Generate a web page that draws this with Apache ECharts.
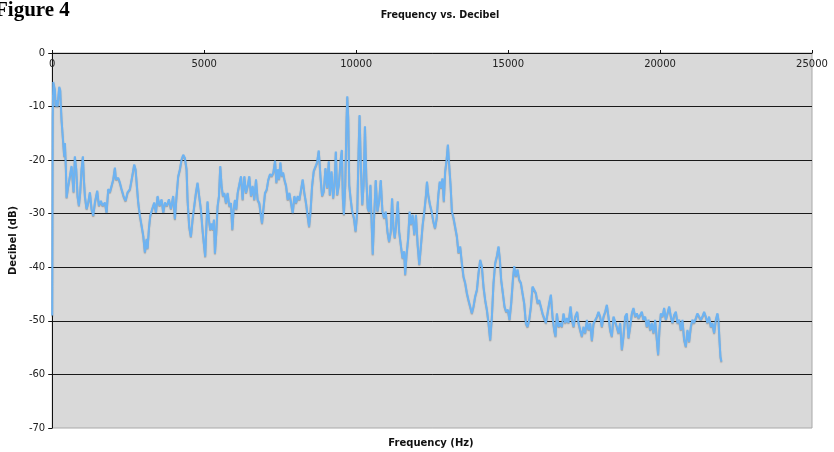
<!DOCTYPE html>
<html><head><meta charset="utf-8">
<script src="https://cdn.jsdelivr.net/npm/echarts@6/dist/echarts.min.js"></script>
<style>html,body{margin:0;padding:0;background:#fff}#c{width:834px;height:452px}</style>
</head><body><div id="c"></div>
<script>
const xTicks = [0, 5000, 10000, 15000, 20000, 25000];
const yTicks = [0, -10, -20, -30, -40, -50, -60, -70];
const freq = [0,15,33,88,110,143,175,230,263,285,307,362,395,417,450,472,526,581,636,669,702,745,790,833,878,921,965,1009,1042,1075,1130,1184,1240,1294,1349,1404,1480,1535,1601,1656,1733,1788,1842,1897,1952,2007,2062,2095,2171,2227,2281,2347,2413,2479,2556,2632,2698,2742,2786,2830,2885,2940,2995,3050,3104,3137,3181,3225,3290,3356,3412,3466,3532,3598,3653,3708,3773,3839,3905,3980,4036,4090,4145,4201,4255,4310,4366,4420,
4453,4507,4563,4617,4672,4727,4781,4836,4892,4946,5001,5034,5067,5110,5157,5200,5244,5288,5321,5354,5397,5441,5486,5529,5573,5617,5661,5717,5771,5826,5881,5925,5969,6013,6057,6101,6156,6211,6265,6320,6376,6431,6485,6540,6594,6649,6705,6759,6814,6870,6903,6946,7002,7056,7111,7167,7221,7276,7332,7376,7419,7463,7507,7551,7596,7640,7695,7749,7804,7859,7913,7968,8023,8078,8132,8187,8241,8296,8352,8406,8452,8496,8550,8605,8660,8715,8770,8826,8880,
8935,8990,9045,9100,9134,9190,9244,9288,9332,9377,9430,9486,9530,9563,9596,9642,9686,9708,9740,9773,9817,9872,9927,9981,10037,10080,10113,10157,10202,10246,10290,10336,10380,10423,10470,10512,10546,10590,10645,10700,10754,10810,10865,10919,10975,11030,11084,11140,11183,11228,11271,11315,11371,11415,11470,11526,11580,11613,11659,11713,11759,11803,11859,11913,11968,12024,12078,12134,12190,12243,12298,12331,12375,12430,12486,12540,12595,12651,12705,12751,12795,12840,12885,12929,12972,13019,13062,13107,13152,13205,
13260,13314,13368,13423,13479,13532,13588,13644,13697,13752,13808,13862,13917,13973,14027,14081,14137,14191,14246,14302,14356,14411,14467,14520,14575,14631,14685,14731,14772,14828,14882,14937,14993,15046,15102,15158,15201,15256,15310,15365,15421,15475,15530,15585,15639,15694,15750,15804,15859,15914,15969,16023,16078,16133,16187,16243,16297,16352,16408,16462,16516,16560,16606,16660,16715,16771,16824,16880,16935,16989,17055,17099,17154,17208,17274,17318,17372,17428,17481,17537,17592,17646,17701,17757,
17810,17865,17922,17975,18029,18086,18139,18194,18250,18303,18358,18414,18468,18523,18578,18632,18687,18743,18796,18852,18907,18961,19016,19072,19125,19181,19237,19290,19345,19401,19454,19509,19565,19619,19674,19730,19783,19838,19894,19937,19980,20026,20080,20135,20191,20245,20300,20355,20409,20464,20520,20573,20628,20684,20738,20792,20848,20902,20957,21013,21066,21121,21177,21231,21286,21341,21395,21450,21506,21559,21614,21670,21724,21779,21835,21889,21922,21955,21988,22021];
const decibel = [-49,-12,-5.4,-6.9,-10,-8.8,-10,-6.3,-6.9,-10,-12.5,-16.8,-19.3,-16.8,-21.7,-27,-24.8,-23,-21.1,-23.6,-26,-19.3,-21.7,-26.7,-28.5,-26,-21.7,-19.3,-23.6,-26.7,-29.1,-27.9,-26,-29.1,-30.4,-27.9,-25.7,-28.5,-27.6,-28.5,-27.9,-29.8,-25.4,-26,-24.8,-23.6,-21.4,-23.6,-23.3,-24.2,-25.4,-26.7,-27.6,-26,-25.4,-23,-20.8,-21.7,-24.8,-27.9,-30.4,-32.2,-34.1,-37.2,-34.7,-36.5,-32.8,-30.4,-29.1,-27.9,-29.8,-26.7,-28.5,-27.3,-29.8,-27.9,-28.5,-27.3,-29.1,-26.7,-31,-26.7,-23,-21.7,-19.9,-19,-19.6,-21.7,
-27.4,-32.4,-34.3,-31.1,-28.6,-26.1,-24.2,-26.7,-29.2,-33,-36.2,-38,-33,-27.7,-31.1,-33,-31.8,-33,-31.1,-37.4,-33.6,-28.6,-26.7,-21.1,-24.8,-26.7,-26.1,-28,-26.1,-28.6,-28,-33,-29.2,-27.4,-29.2,-26.1,-24.5,-23,-27.4,-23,-26.1,-24.8,-23,-26.7,-24.8,-27.4,-23.6,-27.4,-28,-30.5,-31.8,-29.2,-26.1,-25.5,-23.6,-22.6,-23,-22.3,-20.1,-24.2,-21.7,-23.6,-20.4,-23,-22.3,-23.6,-24.8,-27.4,-26.1,-28,-29.9,-26.7,-28,-26.7,-27.4,-25.5,-23.6,-26.1,-28,-30.5,-32.4,-29.9,-24.8,-22,-22.3,-20.4,-18.2,-23,-26.7,
-25.8,-21.5,-25.2,-20.2,-26.5,-22.1,-27.1,-24.6,-18.4,-26.5,-24.6,-20.2,-18.1,-27.1,-30.2,-24.6,-12.2,-8.1,-12.2,-24.6,-27.1,-29.6,-30.8,-33.3,-29.6,-18.4,-11.6,-21.5,-28.3,-24.6,-13.7,-23.4,-28.9,-29.6,-24.6,-32,-37.6,-30.8,-23.7,-29.6,-27.7,-23.7,-29.6,-30.8,-29.6,-33.3,-35.2,-33.3,-27.1,-32.7,-34.5,-32,-27.7,-33.3,-35.8,-38.3,-37,-41.4,-37.6,-34.5,-29.6,-32,-30.2,-33.9,-30.2,-35.8,-39.5,-35.8,-32,-29.6,-26.5,-24,-26.5,-28.3,-29.6,-31.4,-32.7,-30.8,-26.5,-24,-25.2,-23.4,-27.7,-22.1,-20.2,-17.1,-20.9,-24.6,-29.6,-30.8,
-31,-34.2,-37.3,-36.1,-39.2,-41.7,-42.9,-44.8,-46.1,-47.3,-48.6,-47.3,-45.4,-44.2,-41.1,-38.6,-39.8,-43.6,-46.1,-47.9,-50.4,-53.6,-49.2,-42.9,-39.2,-37.9,-36.1,-38.6,-42.3,-44.8,-47.3,-48.3,-47.9,-49.8,-46.7,-42.3,-39.8,-41.7,-40.4,-42.3,-42.9,-44.8,-46.7,-50.4,-51.1,-49.8,-47.3,-43.6,-43.6,-44.8,-46.7,-46.1,-47.3,-48.6,-48.3,-50.4,-48.6,-46.7,-45.1,-49.2,-51.7,-52.9,-48.6,-51.1,-50.4,-51.1,-48.6,-50.4,-49.5,-50.4,-47.3,-49.8,-51.1,-49.2,-48.3,-50.4,-51.7,-52.9,-51.1,-52.3,-49.8,-51.7,-50.4,-53.7,
-50.5,-50.4,-49.2,-48.3,-49.2,-51.1,-49.2,-48.3,-47,-49.2,-51.7,-52.9,-49.2,-49.2,-51.1,-52.3,-50.4,-55.4,-52.9,-49.2,-48.6,-53.2,-51.1,-48.6,-47.6,-49.2,-48.6,-49.5,-49.2,-48.3,-49.8,-49.2,-51.1,-49.8,-51.7,-50.4,-52.3,-49.8,-53.5,-56.3,-51.7,-48.6,-49.2,-47.6,-49.8,-48.6,-47.3,-49.2,-50.4,-48.9,-48.3,-50.4,-49.8,-51.7,-49.8,-53.5,-54.8,-51.7,-53.9,-51.1,-49.8,-50.4,-49.5,-48.6,-48.3,-49.8,-49.2,-48.3,-49.2,-50.4,-49.2,-51.1,-50.4,-52.3,-49.8,-48.6,-49.8,-53.5,-56.7,-57.6];

const chart = echarts.init(document.getElementById('c'), null, {renderer: 'canvas'});
const data = freq.map((f, i) => [f, decibel[i]]);
const txt = '#222';
chart.setOption({
  animation: false,
  backgroundColor: '#fff',
  grid: {left: 52, right: 22, top: 53, bottom: 24, show: true, backgroundColor: '#d9d9d9', borderColor: '#a8a8a8', borderWidth: 1},
  graphic: [
    {type: 'text', left: -5, top: 0, style: {text: 'Figure 4', font: 'bold 21px "Liberation Serif"', fill: '#000'}},
    {type: 'text', x: 440, y: 10, style: {text: 'Frequency vs. Decibel', font: 'bold 9.6px "DejaVu Sans"', fill: '#111', align: 'center'}},
    {type: 'text', x: 431, y: 438, style: {text: 'Frequency (Hz)', font: 'bold 10px "DejaVu Sans"', fill: '#111', align: 'center'}}
  ],
  xAxis: {
    type: 'value', position: 'top', min: xTicks[0], max: xTicks[xTicks.length - 1], interval: 5000,
    axisLine: {show: true, onZero: false, lineStyle: {color: '#111', width: 1}},
    axisTick: {show: true, length: 3, lineStyle: {color: '#111'}},
    axisLabel: {inside: true, margin: 6, fontSize: 10, fontFamily: 'DejaVu Sans', color: txt, formatter: v => String(v)},
    splitLine: {show: false}
  },
  yAxis: {
    type: 'value', min: yTicks[yTicks.length - 1], max: yTicks[0], interval: 10,
    name: 'Decibel (dB)', nameLocation: 'middle', nameGap: 34,
    nameTextStyle: {fontWeight: 'bold', fontSize: 10, fontFamily: 'DejaVu Sans', color: '#111'},
    axisLine: {show: true, onZero: false, lineStyle: {color: '#111', width: 1}},
    axisTick: {show: true, length: 4, lineStyle: {color: '#111'}},
    axisLabel: {margin: 7, fontSize: 10, fontFamily: 'DejaVu Sans', color: txt, formatter: v => String(v)},
    splitLine: {show: true, showMinLine: false, showMaxLine: false, lineStyle: {color: '#1a1a1a', width: 1}}
  },
  series: [{
    type: 'line', data: data, showSymbol: false, symbol: 'none',
    lineStyle: {color: '#6db3f2', width: 2, shadowColor: 'rgba(60,60,60,0.35)', shadowBlur: 1, shadowOffsetY: 1}
  }]
});
</script></body></html>
